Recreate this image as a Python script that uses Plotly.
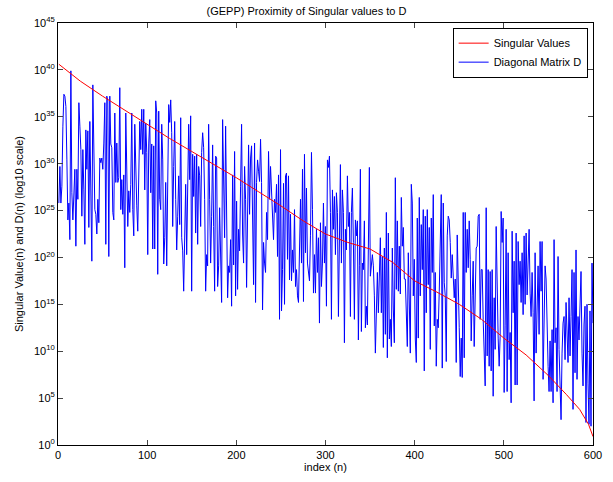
import numpy as np
import plotly.graph_objects as go

# Singular values of the GEPP-factored matrix, as log10 exponents at selected indices
sv_index = [1, 25, 50, 75, 100, 125, 150, 175, 200, 225, 250, 275, 300, 325, 350,
            375, 400, 425, 450, 475, 500, 525, 550, 570, 585, 595, 600]
sv_log10 = [40.6, 38.8, 37.2, 35.7, 34.2, 32.7, 31.3, 29.9, 28.5, 27.0, 25.5, 23.9,
            22.5, 21.6, 20.9, 19.5, 17.5, 16.3, 15.0, 13.4, 11.4, 9.6, 7.4, 5.4,
            3.8, 2.2, 0.9]

# Diagonal entries D(n) as log10 exponents, in index order
d_log10 = [
    # n ~ 1-120
    25.8, 29.7, 25.8, 27.6, 34.0, 37.4, 37.2, 36.1, 30.4, 24.0, 25.8, 21.9, 39.9,
    26.9, 24.0, 26.9, 29.4, 21.2, 29.4, 26.2, 36.5, 34.0, 31.5, 24.4, 31.5, 27.2,
    21.4, 33.6, 29.4, 33.5, 23.2, 34.5, 27.2, 19.6, 38.4, 30.4, 25.1, 24.6, 22.5,
    26.2, 23.7, 30.6, 30.1, 30.6, 29.4, 32.2, 36.5, 21.4, 37.2, 36.7, 20.1, 37.2,
    32.1, 31.7, 24.8, 24.0, 35.4, 28.0, 32.2, 28.0, 28.5, 38.1, 25.1, 28.3, 24.6,
    28.8, 18.9, 35.4, 27.1, 23.3, 27.1, 24.8, 27.8, 35.4, 25.1, 22.3, 34.2, 28.0,
    25.5, 22.8, 31.9, 34.5, 31.5, 35.8, 31.0, 35.8, 27.2, 34.3, 31.2, 20.3, 32.1,
    34.7, 26.9, 32.1, 20.9, 31.9, 20.9, 36.7, 35.4, 18.2, 35.6, 26.2, 25.1, 34.2,
    30.4, 19.3, 22.1, 28.0,
    # n ~ 120-240
    19.1, 30.1, 36.3, 34.4, 36.8, 33.3, 23.3, 29.7, 34.5, 26.2, 20.8, 24.4, 28.7,
    23.5, 34.9, 22.1, 20.7, 16.4, 24.4, 27.8, 20.3, 27.8, 34.2, 28.3, 35.1, 16.4,
    31.0, 26.5, 30.8, 22.6, 31.0, 21.4, 29.7, 28.7, 23.3, 31.2, 33.3, 31.7, 26.2,
    16.4, 20.3, 19.1, 34.2, 26.2, 19.4, 24.4, 32.0, 23.3, 16.4, 30.8, 30.6, 16.9,
    19.1, 25.3, 19.8, 15.2, 34.7, 28.8, 22.1, 34.0, 23.3, 15.7, 19.1, 18.4, 21.9,
    14.8, 28.8, 19.2, 31.3, 15.9, 26.0, 16.6, 23.0, 20.7, 27.6, 34.2, 22.5, 19.4,
    29.7, 26.2, 16.8, 26.5, 32.0, 24.6, 30.6, 31.9, 25.8, 17.1, 32.2, 15.2, 28.0,
    30.4, 29.2, 28.1, 32.6, 28.0, 14.4, 21.6, 19.4, 18.4, 24.8, 21.9, 31.3, 26.2,
    29.7, 26.9, 25.1,
    # n ~ 240-360
    21.9, 26.2, 24.8, 27.8, 20.1, 28.8, 13.4, 31.5, 14.3, 18.7, 27.9, 15.0, 28.7,
    29.0, 19.8, 28.7, 17.6, 24.6, 17.5, 20.8, 18.4, 25.1, 16.9, 18.7, 15.9, 15.2,
    23.0, 26.2, 19.4, 29.4, 15.3, 31.0, 20.5, 27.4, 19.4, 18.7, 17.5, 22.3, 31.2,
    25.1, 16.2, 20.3, 16.2, 23.0, 18.4, 22.1, 13.0, 23.7, 16.9, 19.4, 25.8, 19.4,
    23.3, 14.8, 30.4, 29.6, 30.8, 24.8, 13.4, 27.2, 23.0, 26.5, 20.3, 26.9, 24.8,
    13.7, 26.2, 29.9, 19.4, 27.2, 24.8, 10.9, 23.0, 20.8, 28.7, 23.3, 24.8, 13.7,
    24.8, 27.4, 21.6, 13.4, 24.0, 22.3, 23.9, 11.2, 19.1, 29.4, 12.1, 19.4, 18.7,
    23.9, 12.5, 14.8, 12.8, 21.6, 29.6, 18.0, 19.4, 20.3, 19.1, 15.9, 9.8, 15.9,
    18.4, 14.1, 20.5,
    # n ~ 360-480
    22.1, 14.1, 20.1, 10.4, 21.0, 11.8, 24.8, 9.3, 22.6, 11.3, 13.4, 10.5, 21.0,
    14.5, 10.9, 28.5, 16.6, 23.9, 16.4, 21.2, 16.1, 26.4, 21.2, 23.2, 17.7, 17.7,
    13.7, 10.5, 20.5, 12.9, 9.8, 27.8, 25.8, 15.9, 19.8, 11.3, 8.8, 24.2, 11.4,
    26.4, 15.9, 23.5, 18.7, 25.1, 7.9, 24.4, 14.1, 25.1, 17.1, 23.2, 10.2, 24.2,
    18.4, 26.7, 12.7, 18.4, 8.4, 13.4, 12.5, 16.4, 20.5, 26.7, 8.2, 25.8, 17.3,
    15.9, 8.9, 22.3, 24.4, 24.0, 21.6, 17.8, 20.3, 17.5, 15.7, 17.7, 8.8, 22.4,
    14.8, 12.5, 7.3, 11.4, 7.2, 24.8, 9.3, 24.8, 18.4, 23.0, 18.9, 23.9, 19.8,
    11.1, 15.9, 19.6, 10.5, 14.5, 21.0, 21.2, 24.4, 24.6, 13.4, 18.7, 18.7, 13.4,
    10.2, 6.3, 25.3,
    # n ~ 480-600
    9.5, 18.7, 8.4, 18.5, 7.9, 18.7, 5.2, 15.7, 10.2, 23.3, 14.1, 11.4, 8.4,
    11.6, 24.9, 21.6, 24.2, 5.6, 12.7, 23.0, 5.7, 20.5, 9.1, 12.0, 4.5, 22.8,
    14.1, 19.6, 6.4, 22.6, 6.4, 21.7, 17.1, 19.6, 15.2, 20.5, 13.9, 22.3, 15.0,
    22.6, 16.0, 18.9, 23.0, 16.2, 13.7, 18.4, 14.1, 4.7, 20.5, 9.8, 14.1, 19.1,
    11.8, 21.7, 16.4, 21.7, 7.0, 13.4, 19.1, 17.7, 10.9, 8.4, 5.7, 11.1, 5.7,
    12.3, 4.5, 21.9, 10.9, 12.5, 5.7, 20.1, 10.2, 6.3, 2.7, 9.8, 13.0, 13.7,
    9.1, 15.2, 12.0, 8.8, 15.7, 9.5, 13.7, 18.7, 3.8, 18.4, 7.7, 20.8, 7.0,
    13.7, 11.2, 14.8, 18.5, 9.8, 6.3, 12.9, 14.8, 2.4, 15.0, 6.6, 2.2, 14.3,
    2.0, 19.4, 13.0,
]

x_ticks = [0, 100, 200, 300, 400, 500, 600]
y_exponents = [0, 5, 10, 15, 20, 25, 30, 35, 40, 45]

d_index = np.linspace(1, 600, len(d_log10))
sv_vals = 10.0 ** np.array(sv_log10)
d_vals = 10.0 ** np.array(d_log10)

font = "Liberation Sans, Arial, Helvetica, sans-serif"

fig = go.Figure()
# blue trace first so the red curve is drawn on top
fig.add_trace(go.Scatter(x=d_index, y=d_vals, mode="lines",
                         line=dict(color="#0000ff", width=1),
                         name="Diagonal Matrix D"))
fig.add_trace(go.Scatter(x=sv_index, y=sv_vals, mode="lines",
                         line=dict(color="#ff0000", width=1),
                         name="Singular Values"))

fig.update_layout(
    width=613, height=482,
    margin=dict(l=58, r=20, t=23, b=37, pad=0),
    paper_bgcolor="white", plot_bgcolor="white",
    font=dict(family=font, size=11, color="black"),
    title=dict(text="(GEPP) Proximity of Singular values to D",
               x=0.5, xanchor="center", y=0.985, yanchor="top",
               font=dict(size=11)),
    showlegend=True,
    legend=dict(x=0.990, y=0.989, xanchor="right", yanchor="top",
                bgcolor="white", bordercolor="black", borderwidth=1,
                font=dict(size=11), traceorder="reversed",
                tracegroupgap=0, itemwidth=30),
)
fig.update_xaxes(range=[0, 600], tickvals=x_ticks, ticks="inside", ticklen=5,
                 showline=True, linecolor="black", linewidth=1, mirror="ticks",
                 showgrid=False, zeroline=False,
                 title=dict(text="index (n)", standoff=2, font=dict(size=11)),
                 tickfont=dict(size=11))
fig.update_yaxes(type="log", range=[0, 45],
                 tickvals=[10.0 ** e for e in y_exponents],
                 ticktext=["10<sup>%d</sup>" % e for e in y_exponents],
                 ticks="inside", ticklen=5,
                 showline=True, linecolor="black", linewidth=1, mirror="ticks",
                 showgrid=False, zeroline=False,
                 title=dict(text="Singular Value(n) and D(n) (log10 scale)",
                            standoff=8, font=dict(size=11)),
                 tickfont=dict(size=11))

fig.write_html("out.html")
